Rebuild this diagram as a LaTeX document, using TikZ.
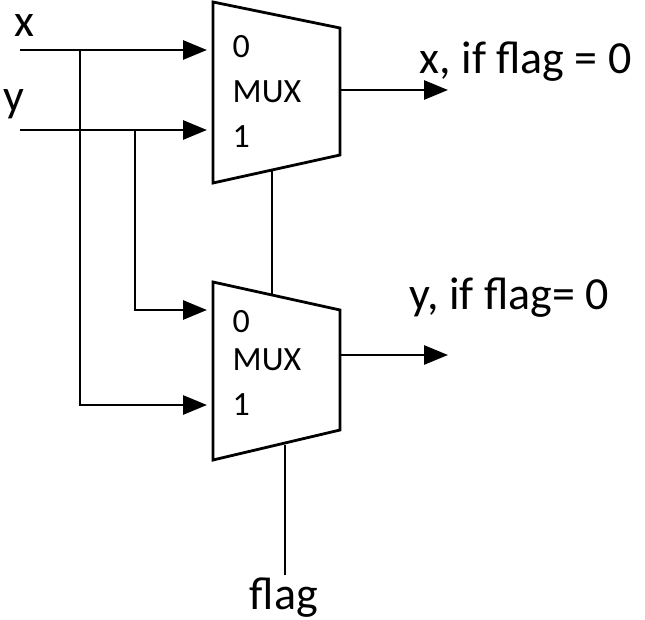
\documentclass[tikz,border=0pt]{standalone}
\usepackage{fontspec}
\setmainfont{Carlito}
\usetikzlibrary{arrows.meta}
\begin{document}
\begin{tikzpicture}[x=1pt,y=-1pt,line width=2.8pt]
			\useasboundingbox (0,0) rectangle (645,620);
			\tikzset{wire/.style={-{Triangle[length=24pt,width=19pt]}},
				lbl/.style={font=\fontsize{46}{46}\selectfont},
				inlbl/.style={font=\fontsize{34}{34}\selectfont}}
			% muxes
			\draw (213,2) -- (340,28) -- (340,155) -- (213,183) -- cycle;
			\draw (213,282) -- (340,310) -- (340,430) -- (213,460) -- cycle;
			\node[inlbl,anchor=west] (m0a) at (228,47)  {0};
			\node[inlbl,anchor=west] (m0m) at (228,92)  {MUX};
			\node[inlbl,anchor=west] (m0b) at (228,137) {1};
			\node[inlbl,anchor=west] (m1a) at (228,322) {0};
			\node[inlbl,anchor=west] (m1m) at (228,360) {MUX};
			\node[inlbl,anchor=west] (m1b) at (228,405) {1};
			% ports
			\coordinate (xin) at (20,50);   \coordinate (x0) at (207,50);
			\coordinate (yin) at (20,130);  \coordinate (y1) at (207,130);
			\coordinate (xs) at (80,50);    \coordinate (x1) at (207,405);
			\coordinate (ys) at (135,130);  \coordinate (y0) at (207,310);
			\coordinate (o0) at (340,90);   \coordinate (e0) at (448,90);
			\coordinate (o1) at (340,355);  \coordinate (e1) at (448,355);
			\coordinate (s0) at (272,170);  \coordinate (s1) at (272,296);
			\coordinate (fs) at (285,445);  \coordinate (fe) at (285,575);
			% labels
			\node[lbl] (x) at (24,26) {x};
			\node[lbl] (y) at (14,104) {y};
			\node[lbl,anchor=west] (ox) at (415,62) {x, if flag = 0};
			\node[lbl,anchor=west] (oy) at (405,298) {y, if flag= 0};
			\node[lbl] (flag) at (284,598) {flag};
			% wires
			\draw[wire] (xin) -- (x0);
			\draw[wire] (yin) -- (y1);
			\draw[wire] (xs) |- (x1);
			\draw[wire] (ys) |- (y0);
			\draw[wire] (o0) -- (e0);
			\draw[wire] (o1) -- (e1);
			\draw (s0) -- (s1);
			\draw (fs) -- (fe);
		\end{tikzpicture}
\end{document}
